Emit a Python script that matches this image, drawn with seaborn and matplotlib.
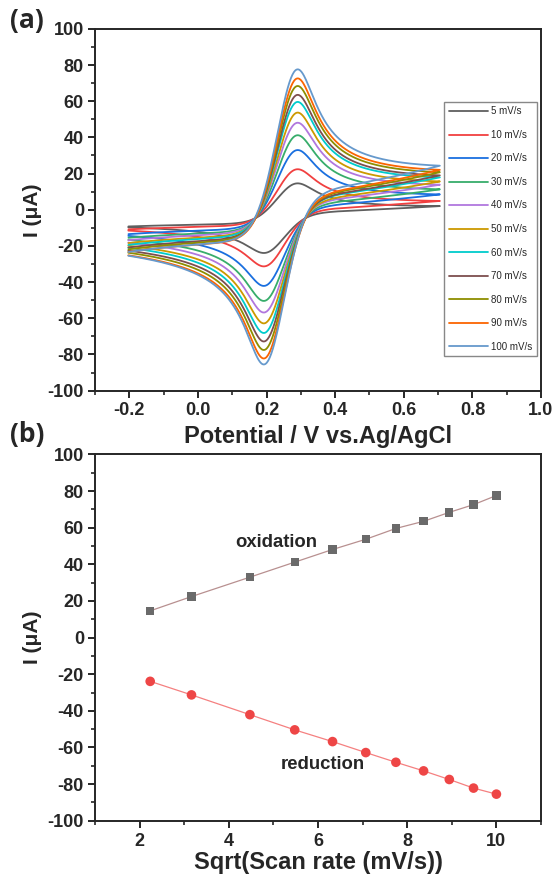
import numpy as np
import pandas as pd
import matplotlib
matplotlib.use("Agg")
import matplotlib.pyplot as plt
import seaborn as sns
from matplotlib.ticker import MultipleLocator

# scan rates and peak currents
scan_rates = [5, 10, 20, 30, 40, 50, 60, 70, 80, 90, 100]
sqrt_rate = [2.236, 3.162, 4.472, 5.477, 6.325, 7.071, 7.746, 8.367, 8.944, 9.487, 10.0]
i_ox = [14.6, 22.4, 33.0, 41.2, 48.1, 53.7, 59.6, 63.5, 68.4, 72.6, 77.6]
i_red = [-23.9, -31.3, -42.1, -50.4, -56.8, -62.8, -68.1, -72.8, -77.5, -82.2, -85.5]

# potential window of the CV scans (V vs Ag/AgCl)
e_low = -0.2
e_high = 0.7
e_half = 0.24        # midpoint of the two peaks
wave_spread = 0.028  # width of the redox wave
ohmic_shift = 0.043  # extra peak separation (iR-like)
bg_slope = 0.1       # rising background on the anodic side

colors = ["#5f5f5f", "#f14040", "#1a6fdf", "#37ad6b", "#b177de", "#cc9900",
          "#00cbcc", "#7d4e4e", "#8e8e00", "#fb6501", "#6699cc"]
labels = [f"{r} mV/s" for r in scan_rates]


def cv_cycle(step=0.002):
    """Normalised voltammogram shape (second of two cycles)."""
    up = np.arange(e_low, e_high + step / 2, step)
    down = up[::-1]
    pot = np.concatenate([up, down[1:], up[1:], down[1:]])
    n = len(pot)
    h = step / wave_spread
    f = 1.0 / (1.0 + np.exp(-(pot - e_half) / wave_spread))
    m = np.arange(n)
    w = 2 * np.sqrt(h / np.pi) * (np.sqrt(m + 1) - np.sqrt(m))
    chi = np.zeros(n)
    for k in range(1, n):
        chi[k] = (f[k] - np.dot(chi[1:k], w[k - 1:0:-1])) / w[0]
    start = len(up) + len(down) - 2
    return pot[start:], chi[start:], len(up)


pot, chi, n_up = cv_cycle()
shape = chi + bg_slope * 0.05 * np.logaddexp(0, (pot - 0.25) / 0.05)
pot = pot + ohmic_shift * chi
i_pa = np.argmax(shape[:n_up])
i_pc = n_up + np.argmin(shape[n_up:])

frames = []
for lab, ipa, ipc in zip(labels, i_ox, i_red):
    a = (ipa - ipc) / (shape[i_pa] - shape[i_pc])
    b = ipa - a * shape[i_pa]
    frames.append(pd.DataFrame({"E": pot, "I": a * shape + b, "rate": lab}))
cv = pd.concat(frames, ignore_index=True)

sns.set_style("ticks")
plt.rcParams["font.family"] = ["Liberation Sans", "DejaVu Sans"]
plt.rcParams["font.weight"] = "bold"
plt.rcParams["axes.unicode_minus"] = False
plt.rcParams["axes.linewidth"] = 1.4

fig = plt.figure(figsize=(5.56, 8.74), dpi=100)
ax1 = fig.add_axes([0.171, 0.553, 0.802, 0.414])
ax2 = fig.add_axes([0.171, 0.061, 0.802, 0.419])

# ---- (a) cyclic voltammograms ----
sns.lineplot(data=cv, x="E", y="I", hue="rate", palette=colors, sort=False,
             estimator=None, units="rate", lw=1.3, ax=ax1)
handles, labs = ax1.get_legend_handles_labels()
for hnd in handles:
    hnd.set_linewidth(1.3)
ax1.legend(handles, labs, loc="upper left", bbox_to_anchor=(0.7825, 0.799),
           frameon=True, fancybox=False, edgecolor="#888888",
           framealpha=1, handlelength=4.0, labelspacing=1.39,
           borderaxespad=0, borderpad=0.5, handletextpad=0.3,
           prop={"size": 7, "weight": "normal"})
ax1.set_xlim(-0.3, 1.0)
ax1.set_ylim(-100, 100)
ax1.xaxis.set_major_locator(MultipleLocator(0.2))
ax1.xaxis.set_minor_locator(MultipleLocator(0.1))
ax1.yaxis.set_major_locator(MultipleLocator(20))
ax1.yaxis.set_minor_locator(MultipleLocator(10))
ax1.set_xlabel("Potential / V vs.Ag/AgCl", fontsize=17, fontweight="bold")
ax1.set_ylabel("I (μA)", fontsize=15, fontweight="bold")
ax1.xaxis.set_label_coords(0.5, -0.095)

# ---- (b) peak current vs sqrt(scan rate) ----
sns.lineplot(x=sqrt_rate, y=i_ox, color="#b89090", lw=0.9, ax=ax2)
sns.scatterplot(x=sqrt_rate, y=i_ox, marker="s", color="#6a6a6a", s=36,
                edgecolor="none", ax=ax2, zorder=3)
sns.lineplot(x=sqrt_rate, y=i_red, color="#f58080", lw=0.9, ax=ax2)
sns.scatterplot(x=sqrt_rate, y=i_red, marker="o", color="#ee4646", s=48,
                edgecolor="none", ax=ax2, zorder=3)
ax2.text(5.07, 52.2, "oxidation", fontsize=13.3, fontweight="bold",
         ha="center", va="center")
ax2.text(6.1, -69.5, "reduction", fontsize=13.3, fontweight="bold",
         ha="center", va="center")
ax2.set_xlim(1, 11)
ax2.set_ylim(-100, 100)
ax2.xaxis.set_major_locator(MultipleLocator(2))
ax2.xaxis.set_minor_locator(MultipleLocator(1))
ax2.yaxis.set_major_locator(MultipleLocator(20))
ax2.yaxis.set_minor_locator(MultipleLocator(10))
ax2.set_xlabel("Sqrt(Scan rate (mV/s))", fontsize=17, fontweight="bold")
ax2.set_ylabel("I (μA)", fontsize=15, fontweight="bold")
ax2.xaxis.set_label_coords(0.5, -0.084)

for ax in (ax1, ax2):
    ax.tick_params(which="major", direction="out", length=5, width=1.4,
                   labelsize=13, pad=3)
    ax.tick_params(which="minor", direction="out", length=3, width=1.2)
    for t in ax.get_xticklabels() + ax.get_yticklabels():
        t.set_fontweight("bold")
    ax.yaxis.set_label_coords(-0.12, 0.5)
    for sp in ax.spines.values():
        sp.set_visible(True)
        sp.set_linewidth(1.4)
ax2.tick_params(axis="x", which="major", pad=4)

fig.text(0.018, 0.976, "(a)", fontsize=19, fontweight="bold",
         family="Open Sans", va="center")
fig.text(0.018, 0.503, "(b)", fontsize=19, fontweight="bold",
         family="Open Sans", va="center")

fig.savefig("out.png", dpi=100)
